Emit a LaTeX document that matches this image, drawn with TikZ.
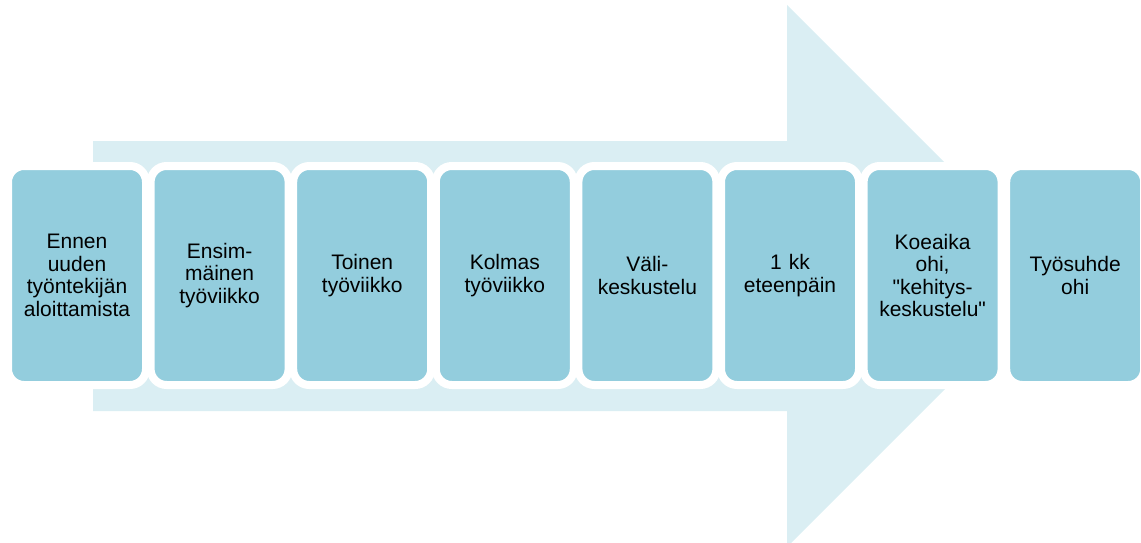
\documentclass[tikz,border=0pt]{standalone}
\usepackage{fontspec}
\setmainfont{Liberation Sans}
\newfontfamily\boxfont{Liberation Sans}
\definecolor{phaseblue}{HTML}{93CDDD}
\definecolor{flowblue}{HTML}{DAEEF3}
\begin{document}
\begin{tikzpicture}[x=1pt, y=-1pt,
  phase/.style={draw=white, line width=8pt, fill=phaseblue, rounded corners=16pt, minimum width=138pt, minimum height=219pt, text width=128pt, inner sep=0pt, align=center, font=\boxfont\fontsize{21}{22.5}\selectfont}]
\useasboundingbox (0,0) rectangle (1141,543);
\clip (0,0) rectangle (1141,543);
\fill[flowblue] (93,141) -- (787,141) -- (787,5) -- (1058,276) -- (787,547) -- (787,411) -- (93,411) -- cycle;
\foreach \i/\name/\txt in {0/before/{Ennen\\uuden\\työntekijän\\aloittamista},
                           1/week1/{Ensim-\\mäinen\\työviikko},
                           2/week2/{Toinen\\työviikko},
                           3/week3/{Kolmas\\työviikko},
                           4/mid/{Väli-\\keskustelu},
                           5/month/{1 kk\\eteenpäin},
                           6/trial/{Koeaika\\ohi,\\"kehitys-\\keskustelu"},
                           7/end/{Työsuhde\\ohi}} {
  \node[phase] (\name) at (77+142.6*\i,275.5) {\txt};
}
\end{tikzpicture}
\end{document}
